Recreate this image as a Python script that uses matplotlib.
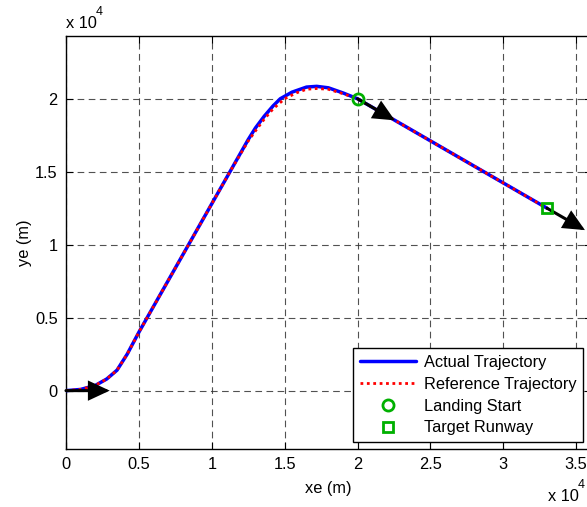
import numpy as np
import matplotlib.pyplot as plt
from matplotlib.ticker import FuncFormatter, MultipleLocator

plt.rcParams['font.family'] = ['Liberation Sans', 'DejaVu Sans']
plt.rcParams['font.size'] = 11.8

# trajectory samples (m)
xe_actual = [0, 1000, 2000, 2800, 3500, 4200, 5000, 11250, 12500, 13000, 13600,
             14200, 14700, 15500, 16500, 17200, 18000, 19000, 20000, 33000]
ye_actual = [0, 80, 350, 800, 1400, 2500, 4000, 15000, 17200, 18000, 18800,
             19500, 20000, 20450, 20800, 20850, 20750, 20400, 20000, 12500]

xe_ref = [0, 1000, 2000, 2800, 3500, 4200, 5000, 11250, 12500, 13000, 13600,
          14200, 15000, 15800, 16500, 17200, 18000, 19000, 20000, 33000]
ye_ref = [0, 80, 350, 800, 1400, 2500, 4000, 15000, 17100, 17800, 18600,
          19300, 20000, 20400, 20650, 20700, 20650, 20350, 20000, 12500]

# landing start and runway threshold
landing_start = (20000, 20000)
target_runway = (33000, 12500)

# heading arrows: base point and vector (m)
arrow_x = [0, 20000, 33000]
arrow_y = [0, 20000, 12500]
arrow_u = [3000, 2560, 2600]
arrow_v = [0, -1480, -1500]

fig = plt.figure(figsize=(5.87, 5.07), dpi=100)
ax = fig.add_axes([0.1124, 0.1144, 0.894, 0.8146])

green = '#00b000'
ax.plot(xe_actual, ye_actual, color='#0000ff', lw=2.5, label='Actual Trajectory',
        solid_capstyle='round', zorder=3)
ax.plot(xe_ref, ye_ref, color='#ff0000', lw=2.0, linestyle=(0, (1, 1.3)),
        label='Reference Trajectory', zorder=4)
ax.plot(*landing_start, 'o', mfc='none', mec=green, mew=2, ms=8,
        linestyle='none', label='Landing Start', zorder=6)
ax.plot(*target_runway, 's', mfc='none', mec=green, mew=2, ms=7,
        linestyle='none', label='Target Runway', zorder=6)

for x, y, u, v in zip(arrow_x, arrow_y, arrow_u, arrow_v):
    ax.annotate('', xy=(x + u, y + v), xytext=(x, y),
                arrowprops=dict(arrowstyle='-|>,head_length=0.6,head_width=0.28',
                                mutation_scale=20, lw=2.2, color='k',
                                shrinkA=0, shrinkB=0, joinstyle='miter'),
                zorder=5)

ax.set_xlim(0, 36000)
ax.set_ylim(-4000, 24300)
ax.xaxis.set_major_locator(MultipleLocator(5000))
ax.yaxis.set_major_locator(MultipleLocator(5000))
fmt = FuncFormatter(lambda v, p: '%g' % (v / 1e4))
ax.xaxis.set_major_formatter(fmt)
ax.yaxis.set_major_formatter(fmt)

ax.tick_params(direction='in', length=5, width=0.8, top=True, right=True, pad=6)
ax.grid(True, color='#333333', linestyle=(0, (6, 4)), lw=0.8, alpha=0.85)
for s in ax.spines.values():
    s.set_linewidth(1.0)

ax.set_xlabel('xe (m)', labelpad=6)
ax.set_ylabel('ye (m)', labelpad=2)

# exponent labels in the MATLAB style
fig.text(66 / 587, 1 - 28 / 507, 'x 10', ha='left', va='baseline')
fig.text(96 / 587, 1 - 15 / 507, '4', ha='left', va='baseline', fontsize=9)
fig.text(548 / 587, 1 - 501 / 507, 'x 10', ha='left', va='baseline')
fig.text(578 / 587, 1 - 488 / 507, '4', ha='left', va='baseline', fontsize=9)

leg = ax.legend(loc='lower right', bbox_to_anchor=(0.985, 0.017), borderaxespad=0,
                fancybox=False, edgecolor='k', framealpha=1, handlelength=3.4,
                labelspacing=0.42, borderpad=0.4, handletextpad=0.5, fontsize=11.8)
leg.get_frame().set_linewidth(1.0)

fig.savefig('out.png', dpi=100)
